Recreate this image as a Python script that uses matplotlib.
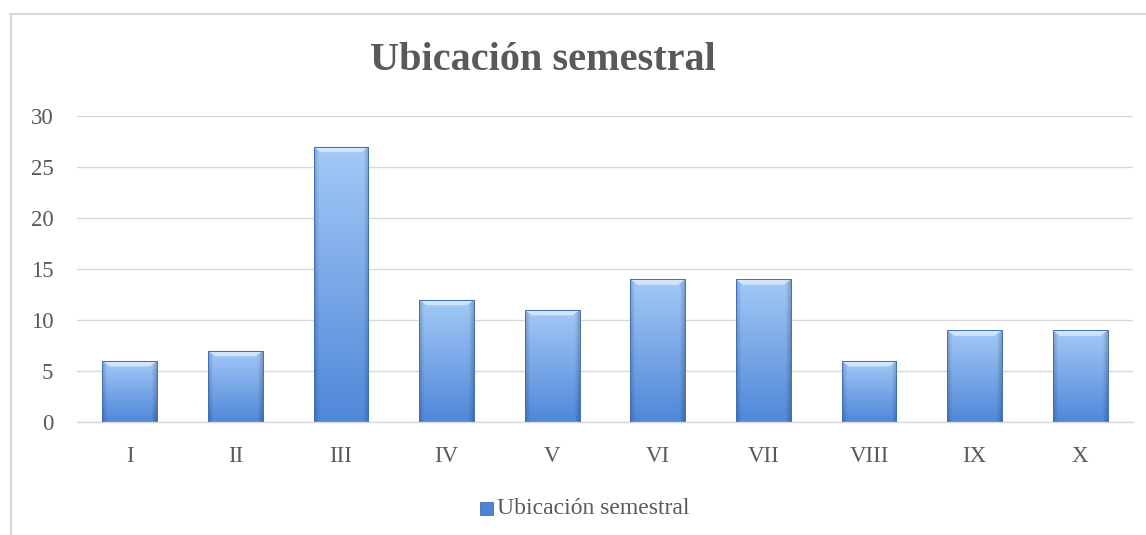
import numpy as np
import matplotlib
matplotlib.use("Agg")
import matplotlib.pyplot as plt
from matplotlib.lines import Line2D
from matplotlib.patches import Polygon, Rectangle

categories = ["I", "II", "III", "IV", "V", "VI", "VII", "VIII", "IX", "X"]
values = [6, 7, 27, 12, 11, 14, 14, 6, 9, 9]
series_name = "Ubicación semestral"
title = "Ubicación semestral"
yticks = [0, 5, 10, 15, 20, 25, 30]

FONT = ["Liberation Serif", "DejaVu Serif"]
TXT = "#595959"
GRID = "#d9d9d9"

plt.rcParams["font.family"] = FONT

fig = plt.figure(figsize=(11.46, 5.35), dpi=100)
ax = fig.add_axes([77 / 1146, 1 - 422 / 535, (1133 - 77) / 1146, (422 - 116) / 535])

x = np.arange(len(categories))
bars = ax.bar(x, values, width=0.52, color="none", edgecolor="#3f6fb8", linewidth=0.7, zorder=3)

# gradient image for bars
top_c = np.array([0.64, 0.79, 0.97])
bot_c = np.array([0.31, 0.53, 0.85])
ny, nx = 200, 60
t = np.linspace(0, 1, ny)[:, None]
s = np.linspace(0, 1, nx)[None, :]
base = top_c[None, None, :] * (1 - t[..., None]) + bot_c[None, None, :] * t[..., None]
edge = np.clip(np.minimum(s, 1 - s) / 0.09, 0, 1)
shade = 0.80 + 0.20 * edge
img = np.clip(base * shade[..., None], 0, 1)

for b in bars:
    x0, y0 = b.get_x(), b.get_y()
    w, h = b.get_width(), b.get_height()
    im = ax.imshow(img, extent=[x0, x0 + w, y0, y0 + h], aspect="auto",
                   origin="upper", zorder=2, interpolation="bilinear")
    im.set_clip_path(b)
    bev_w = w * 0.13
    bev_h = 0.55
    poly = Polygon([[x0, y0 + h], [x0 + w, y0 + h], [x0 + w - bev_w, y0 + h - bev_h],
                    [x0 + bev_w, y0 + h - bev_h]], closed=True,
                   facecolor="#d3e6fc", edgecolor="none", alpha=0.95, zorder=2.5)
    ax.add_patch(poly)

ax.set_xlim(-0.5, len(categories) - 0.5)
ax.set_ylim(0, 30)
ax.set_yticks(yticks)
ax.set_xticks(x)
ax.set_xticklabels(categories)
ax.tick_params(axis="both", length=0, labelsize=16.5, colors=TXT)
ax.tick_params(axis="y", pad=17)
ax.tick_params(axis="x", pad=17)
ax.yaxis.grid(True, color=GRID, linewidth=1.0, zorder=0)
ax.set_axisbelow(True)
for sp in ["top", "right", "left"]:
    ax.spines[sp].set_visible(False)
ax.spines["bottom"].set_color(GRID)
ax.spines["bottom"].set_linewidth(1.0)

fig.text(543 / 1146, 1 - 61 / 535, title, ha="center", va="center",
         fontsize=29, fontweight="bold", color=TXT)

# legend
leg_y = 1 - 508 / 535
sq = Rectangle((480 / 1146, leg_y - 6.5 / 535), 13 / 1146, 13 / 535, transform=fig.transFigure,
               facecolor="#4f84d4", edgecolor="#3f6fb8", linewidth=0.6)
fig.patches.append(sq)
fig.text(497 / 1146, leg_y, series_name, ha="left", va="center", fontsize=17, color=TXT)

# chart border (left and top)
fig.add_artist(Line2D([10.5 / 1146, 10.5 / 1146], [0, 1 - 13.5 / 535], transform=fig.transFigure,
                      color=GRID, linewidth=1.5))
fig.add_artist(Line2D([10 / 1146, 1], [1 - 13.5 / 535, 1 - 13.5 / 535], transform=fig.transFigure,
                      color=GRID, linewidth=1.5))

fig.savefig("out.png", dpi=100)
